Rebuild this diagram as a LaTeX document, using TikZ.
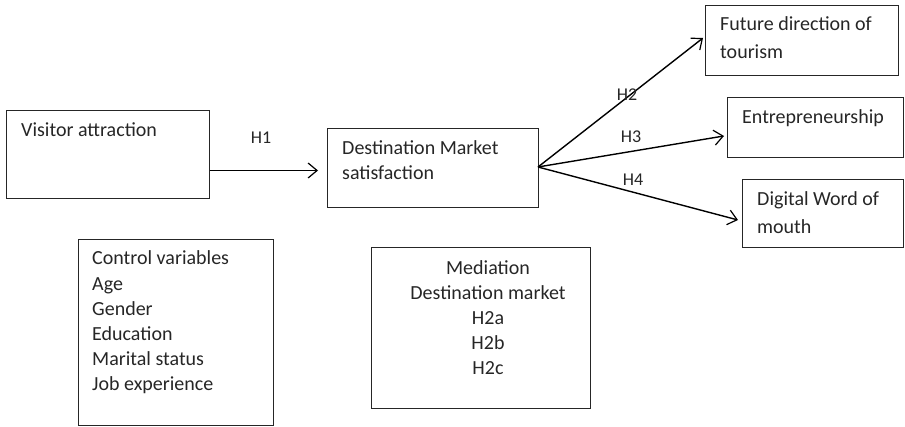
\documentclass[tikz,border=0pt]{standalone}
\usepackage{fontspec}
\setmainfont{Carlito}
\usetikzlibrary{arrows.meta}
\begin{document}
\begin{tikzpicture}[x=1pt,y=-1pt,
  boxstyle/.style={draw=black!85,line width=0.9pt,inner sep=0pt},
  txt/.style={font=\fontsize{20}{26}\selectfont,text=black!85,inner sep=0pt},
  arr/.style={draw=black,line width=1.4pt,-{Straight Barb[length=9pt,width=15pt,line width=1.2pt]}},
  lbl/.style={font=\fontsize{18}{20}\selectfont,text=black!85,inner sep=0pt}]
\useasboundingbox (0,0) rectangle (905,427);
% boxes
\node[boxstyle,minimum width=203pt,minimum height=88pt,anchor=north west] (vis) at (6,110) {};
\node[boxstyle,minimum width=211pt,minimum height=79pt,anchor=north west] (dest) at (327,128) {};
\node[boxstyle,minimum width=193pt,minimum height=70pt,anchor=north west] (fut) at (705,5) {};
\node[boxstyle,minimum width=176pt,minimum height=60pt,anchor=north west] (ent) at (727,97) {};
\node[boxstyle,minimum width=161pt,minimum height=68pt,anchor=north west] (dig) at (742,179) {};
\node[boxstyle,minimum width=195pt,minimum height=186pt,anchor=north west] (ctl) at (78,239) {};
\node[boxstyle,minimum width=219pt,minimum height=161pt,anchor=north west] (med) at (371,247) {};
% texts (base anchor = baseline of the last line)
\node[txt,anchor=base west] (tvis) at (21,137) {Visitor attraction};
\node[txt,anchor=base west,align=left,font=\fontsize{20}{25}\selectfont] (tdest) at (342,180) {Destination Market\\satisfaction};
\node[txt,anchor=base west,align=left,font=\fontsize{20}{28}\selectfont] (tfut) at (720,59) {Future direction of\\tourism};
\node[txt,anchor=base west] (tent) at (742,124) {Entrepreneurship};
\node[txt,anchor=base west,align=left,font=\fontsize{20}{28}\selectfont] (tdig) at (757,234) {Digital Word of\\mouth};
\node[txt,anchor=base west,align=left,font=\fontsize{20}{25.2}\selectfont] (tctl) at (92,391) {Control variables\\Age\\Gender\\Education\\Marital status\\Job experience};
\node[txt,anchor=base,align=center,font=\fontsize{20}{25.2}\selectfont] (tmed) at (488,375) {Mediation\\Destination market\\H2a\\H2b\\H2c};
% connectors
\coordinate (h1end) at (318,170.5);
\coordinate (src) at (538,167);
\coordinate (h2end) at (703,38);
\coordinate (h3end) at (724,136);
\coordinate (h4end) at (738,220);
\draw[arr] (vis.east |- h1end) -- (h1end);
\draw[arr] (src) -- (h2end);
\draw[arr] (src) -- (h3end);
\draw[arr] (src) -- (h4end);
% labels
\node[lbl] (lh1) at (261,137.5) {H1};
\node[lbl] (lh2) at (627,95) {H2};
\node[lbl] (lh3) at (631,137) {H3};
\node[lbl] (lh4) at (633,180) {H4};
\end{tikzpicture}
\end{document}
